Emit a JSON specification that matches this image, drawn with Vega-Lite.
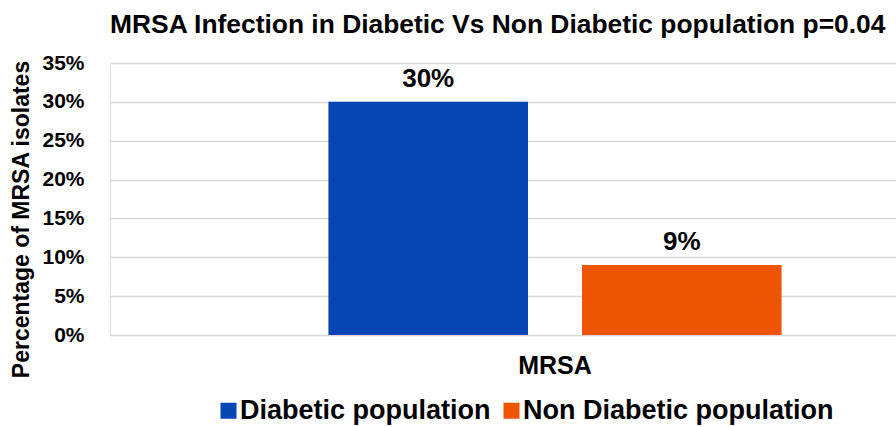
{
  "$schema": "https://vega.github.io/schema/vega-lite/v6.json",
  "autosize": "none",
  "width": 786,
  "height": 272,
  "padding": {"left": 110, "top": 63, "right": 0, "bottom": 92},
  "background": "white",
  "title": {
    "text": "MRSA Infection in Diabetic Vs Non Diabetic population p=0.04",
    "anchor": "start",
    "frame": "group",
    "dx": 0,
    "offset": 14,
    "font": "Liberation Sans",
    "fontSize": 26.4,
    "fontWeight": "bold",
    "color": "#000000"
  },
  "data": {
    "values": [
      {"category": "MRSA", "group": "Diabetic population", "value": 30, "label": "30%"},
      {"category": "MRSA", "group": "Non Diabetic population", "value": 9, "label": "9%"}
    ]
  },
  "encoding": {
    "x": {
      "field": "category",
      "type": "nominal",
      "scale": {"range": [0, 890], "paddingInner": 0, "paddingOuter": 0.482},
      "axis": {
        "title": null,
        "labelAngle": 0,
        "labelFont": "Liberation Sans",
        "labelFontSize": 25,
        "labelFontWeight": "bold",
        "labelColor": "#000000",
        "labelPadding": 18,
        "ticks": false,
        "domain": false
      }
    },
    "xOffset": {
      "field": "group",
      "type": "nominal",
      "sort": ["Diabetic population", "Non Diabetic population"],
      "scale": {"paddingInner": 0.213, "paddingOuter": 0}
    },
    "y": {
      "field": "value",
      "type": "quantitative",
      "scale": {"domain": [0, 35], "nice": false},
      "axis": {
        "values": [0, 5, 10, 15, 20, 25, 30, 35],
        "labelExpr": "datum.value + '%'",
        "labelFont": "Liberation Sans",
        "labelFontSize": 21,
        "labelFontWeight": "bold",
        "labelColor": "#000000",
        "labelPadding": 26,
        "ticks": false,
        "domain": false,
        "grid": true,
        "gridColor": "#d9d9d9",
        "gridWidth": 1.5,
        "title": "Percentage of MRSA isolates",
        "titleFont": "Liberation Sans",
        "titleFontSize": 23,
        "titleFontWeight": "bold",
        "titleColor": "#000000",
        "titleX": -89,
        "titleY": 156,
        "titleAngle": -90,
        "titleAlign": "center",
        "titleBaseline": "middle"
      }
    }
  },
  "layer": [
    {
      "mark": {"type": "bar"},
      "encoding": {
        "color": {
          "field": "group",
          "type": "nominal",
          "sort": ["Diabetic population", "Non Diabetic population"],
          "scale": {"domain": ["Diabetic population", "Non Diabetic population"], "range": ["#0645B4", "#EE5502"]},
          "legend": {
            "title": null,
            "orient": "none",
            "legendX": 105,
            "legendY": 334,
            "direction": "horizontal",
            "symbolType": "square",
            "symbolSize": 256,
            "symbolStrokeWidth": 0,
            "labelFont": "Liberation Sans",
            "labelFontSize": 27,
            "labelFontWeight": "bold",
            "labelColor": "#000000",
            "labelOffset": -2,
            "labelLimit": 500,
            "columnPadding": 7
          }
        }
      }
    },
    {
      "mark": {
        "type": "text",
        "baseline": "bottom",
        "dy": -10,
        "font": "Liberation Sans",
        "fontSize": 26,
        "fontWeight": "bold",
        "color": "#000000"
      },
      "encoding": {
        "text": {"field": "label", "type": "nominal"}
      }
    }
  ]
}
